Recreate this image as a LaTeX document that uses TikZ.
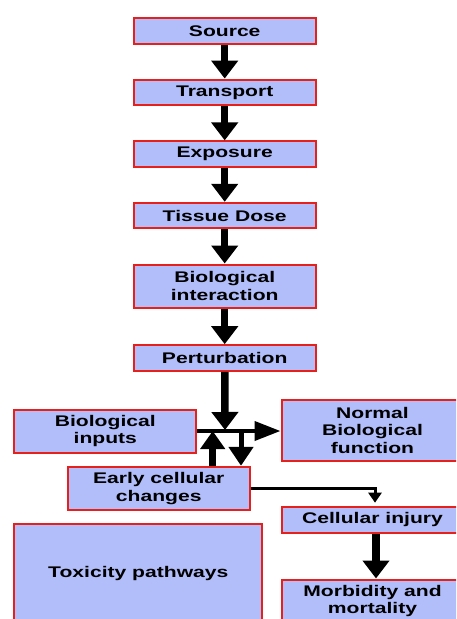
\documentclass[tikz,border=0pt]{standalone}
\usepackage{fontspec}
\setmainfont{Liberation Sans}[FakeStretch=1.37]
\usetikzlibrary{arrows.meta}
\definecolor{boxfill}{RGB}{178,190,250}
\definecolor{boxline}{RGB}{232,32,28}
\tikzset{
  box/.style={draw=boxline, fill=boxfill, line width=2pt, minimum width=182pt,
    minimum height=25.6pt, inner sep=0pt, align=center,
    font=\fontsize{15.4}{17.7}\selectfont\bfseries},
  tallbox/.style={box, minimum height=43pt},
  flow/.style={line width=7.5pt, -{Triangle[width=26pt,length=18pt]}},
}

\begin{document}
\begin{tikzpicture}[x=1pt,y=-1pt]
    \useasboundingbox (0,0) rectangle (456,619);
    \begin{scope}
    \clip (0,0) rectangle (456,619);

    \node[box] (src) at (224.7,30.8) {Source};
    \node[box] (trn) at (224.7,92.4) {Transport};
    \node[box] (exp) at (224.7,154.2) {Exposure};
    \node[box] (tis) at (224.7,215.6) {Tissue Dose};
    \node[tallbox] (bio) at (224.7,286) {Biological\\interaction};
    \node[box] (per) at (224.7,358) {Perturbation};

    \node[tallbox] (inp) at (105.3,431) {Biological\\inputs};
    \node[box, minimum height=61.4pt] (nrm) at (372.5,430.2) {Normal\\Biological\\function};
    \node[tallbox] (ecc) at (158.7,488.3) {Early cellular\\changes};
    \node[box] (inj) at (372.5,520) {Cellular injury};
    \node[box, minimum width=248pt, minimum height=99.4pt] (tox) at (138.3,573.3) {Toxicity pathways};
    \node[tallbox] (mor) at (372.5,601) {Morbidity and\\mortality};

    \foreach \a/\b in {src/trn,trn/exp,exp/tis,tis/bio,bio/per}
        \draw[flow] (\a) -- (\b);

    \coordinate (jn) at (225,430);
    \coordinate (up) at (212.7,431);
    \coordinate (dn) at (241,431);
    \draw[flow] (per) -- (jn);
    \draw[line width=4pt, -{Triangle[width=19pt,length=26pt]}] (inp.east) -- (inp.east -| nrm.west);
    \draw[line width=6.5pt, -{Triangle[width=24pt,length=18pt]}] (ecc.north -| up) -- (up);
    \draw[line width=5pt, -{Triangle[width=24pt,length=19pt]}] (dn) -- (dn |- ecc.north);

    \draw[line width=3pt, -{Triangle[width=13pt,length=10pt]}] (ecc.east) -| ([xshift=2.5pt,yshift=3.5pt]inj.north);
    \draw[flow] ([xshift=3.5pt]inj.south) -- ([xshift=3.5pt]mor.north);
    \end{scope}
\end{tikzpicture}
\end{document}
